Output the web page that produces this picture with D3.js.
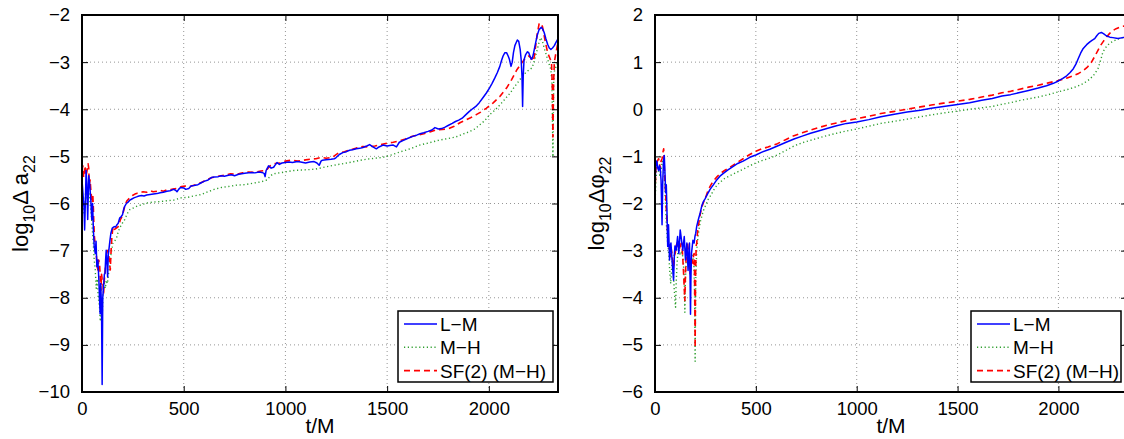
<!DOCTYPE html>
<html><head><meta charset="utf-8">
<script src="https://cdn.jsdelivr.net/npm/d3@7"></script>
<style>body{margin:0;background:#fff}svg{display:block}text{font-family:"Liberation Sans",Arial,Helvetica,sans-serif;fill:#000}</style>
</head><body><svg id="c" width="1124" height="439"></svg>
<script>
// ---------- data ----------
const xTicks = [0, 500, 1000, 1500, 2000];
const yTicksAmp = [-10, -9, -8, -7, -6, -5, -4, -3, -2];
const yTicksPhase = [-6, -5, -4, -3, -2, -1, 0, 1, 2];
const legendLabels = ["L\u2212M", "M\u2212H", "SF(2) (M\u2212H)"];

const ampLM = [[0,-5.5],[5,-5.8],[10,-6.1],[13,-6.56],[17,-5.9],[20,-5.3],[24,-5.6],[28,-6.34],[33,-5.41],[38,-5.6],[43,-5.9],[48,-6.34],[52,-6.0],[56,-6.56],[60,-6.9],[65,-7.06],[69,-6.8],[73,-7.34],[78,-7.2],[83,-7.63],[86,-8.0],[89,-8.34],[92,-7.7],[96,-8.2],[99,-9.84],[102,-8.0],[106,-7.77],[110,-7.5],[113,-7.49],[116,-7.2],[119,-6.99],[123,-7.3],[126,-7.56],[129,-7.1],[132,-6.99],[137,-6.8],[142,-6.63],[149,-6.52],[155,-6.5],[159,-6.49],[165,-6.5],[172,-6.45],[178,-6.42],[185,-6.31],[192,-6.28],[199,-6.24],[205,-6.12],[210,-6.06],[218,-6.0],[227,-5.97],[235,-5.93],[243,-5.91],[255,-5.88],[268,-5.86],[280,-5.84],[293,-5.83],[305,-5.84],[318,-5.82],[335,-5.81],[351,-5.8],[368,-5.79],[384,-5.77],[400,-5.76],[417,-5.74],[433,-5.73],[450,-5.7],[460,-5.72],[467,-5.75],[475,-5.7],[484,-5.66],[500,-5.67],[510,-5.7],[525,-5.68],[536,-5.63],[550,-5.62],[570,-5.6],[586,-5.56],[600,-5.53],[620,-5.5],[636,-5.45],[650,-5.44],[670,-5.43],[685,-5.41],[700,-5.42],[720,-5.4],[735,-5.39],[750,-5.41],[770,-5.38],[785,-5.37],[800,-5.36],[820,-5.35],[834,-5.34],[850,-5.35],[870,-5.33],[884,-5.34],[895,-5.36],[900,-5.43],[905,-5.3],[917,-5.2],[930,-5.25],[942,-5.23],[950,-5.18],[959,-5.13],[970,-5.17],[983,-5.14],[1000,-5.13],[1017,-5.12],[1035,-5.13],[1058,-5.11],[1075,-5.12],[1099,-5.14],[1120,-5.12],[1141,-5.11],[1155,-5.14],[1166,-5.19],[1175,-5.1],[1182,-5.08],[1200,-5.07],[1224,-5.06],[1240,-5.05],[1248,-5.03],[1265,-4.96],[1282,-4.92],[1300,-4.9],[1315,-4.87],[1330,-4.86],[1348,-4.84],[1365,-4.83],[1381,-4.81],[1400,-4.78],[1414,-4.75],[1430,-4.8],[1447,-4.84],[1460,-4.8],[1480,-4.76],[1500,-4.78],[1513,-4.77],[1530,-4.76],[1546,-4.8],[1560,-4.7],[1580,-4.66],[1600,-4.62],[1629,-4.57],[1645,-4.55],[1662,-4.52],[1680,-4.5],[1701,-4.47],[1720,-4.44],[1735,-4.39],[1752,-4.42],[1768,-4.41],[1785,-4.38],[1802,-4.34],[1820,-4.3],[1836,-4.26],[1852,-4.23],[1869,-4.19],[1886,-4.12],[1903,-4.05],[1920,-3.99],[1936,-3.94],[1953,-3.86],[1970,-3.76],[1987,-3.66],[2003,-3.55],[2016,-3.45],[2029,-3.34],[2042,-3.22],[2054,-3.09],[2062,-2.97],[2070,-2.87],[2079,-2.8],[2087,-2.8],[2095,-2.87],[2101,-2.94],[2109,-3.09],[2115,-3.0],[2121,-2.8],[2128,-2.65],[2134,-2.59],[2140,-2.53],[2147,-2.56],[2154,-2.73],[2159,-2.95],[2163,-3.3],[2166,-3.94],[2169,-3.3],[2173,-2.95],[2181,-2.84],[2190,-2.78],[2196,-2.8],[2203,-2.88],[2208,-2.94],[2213,-2.92],[2218,-2.85],[2224,-2.72],[2230,-2.59],[2238,-2.43],[2247,-2.31],[2258,-2.26],[2265,-2.3],[2272,-2.37],[2280,-2.5],[2289,-2.62],[2297,-2.7],[2305,-2.73],[2313,-2.7],[2322,-2.65],[2330,-2.58],[2339,-2.51]];

const ampMH = [[0,-5.7],[5,-5.9],[10,-6.2],[15,-6.0],[20,-5.6],[25,-5.9],[30,-5.7],[35,-5.8],[40,-6.0],[45,-6.2],[50,-6.5],[55,-6.8],[60,-7.2],[65,-7.4],[70,-7.8],[75,-7.6],[80,-8.0],[86,-8.2],[90,-8.5],[95,-8.0],[100,-8.3],[103,-7.95],[110,-7.7],[115,-7.8],[119,-7.63],[125,-7.7],[130,-7.5],[136,-7.34],[142,-7.1],[152,-6.84],[160,-6.8],[169,-6.74],[177,-6.62],[185,-6.52],[198,-6.42],[210,-6.34],[222,-6.22],[235,-6.13],[250,-6.1],[268,-6.06],[290,-6.03],[318,-5.99],[350,-5.97],[384,-5.96],[420,-5.94],[450,-5.93],[487,-5.88],[520,-5.87],[550,-5.84],[586,-5.81],[620,-5.75],[650,-5.7],[685,-5.66],[720,-5.64],[760,-5.61],[800,-5.6],[840,-5.57],[880,-5.54],[910,-5.5],[925,-5.42],[940,-5.37],[970,-5.35],[1000,-5.33],[1040,-5.3],[1080,-5.29],[1120,-5.28],[1149,-5.27],[1200,-5.22],[1250,-5.18],[1315,-5.13],[1360,-5.09],[1400,-5.06],[1440,-5.04],[1480,-5.02],[1520,-4.97],[1560,-4.91],[1613,-4.84],[1660,-4.76],[1700,-4.72],[1752,-4.66],[1800,-4.62],[1836,-4.59],[1870,-4.53],[1903,-4.48],[1930,-4.42],[1953,-4.34],[1980,-4.24],[2003,-4.12],[2030,-4.02],[2054,-3.91],[2080,-3.78],[2104,-3.66],[2125,-3.53],[2146,-3.41],[2165,-3.3],[2180,-3.23],[2196,-3.17],[2213,-3.12],[2225,-2.95],[2238,-2.73],[2247,-2.58],[2255,-2.48],[2263,-2.55],[2272,-2.7],[2289,-2.94],[2305,-3.16],[2310,-3.4],[2315,-5.01],[2319,-3.4],[2322,-3.2],[2330,-3.1],[2339,-3.0]];

const ampSF = [[0,-5.3],[4,-5.2],[8,-5.45],[12,-5.3],[15,-5.2],[20,-5.41],[25,-5.3],[30,-5.16],[33,-5.25],[36,-5.6],[40,-5.5],[44,-5.75],[50,-5.99],[53,-5.8],[56,-6.1],[58,-6.4],[61,-6.7],[65,-6.9],[70,-7.06],[74,-7.3],[78,-7.41],[82,-7.2],[86,-7.25],[90,-7.6],[93,-7.84],[96,-7.5],[99,-7.6],[103,-7.7],[106,-7.91],[110,-7.6],[113,-7.5],[116,-7.3],[119,-7.2],[124,-7.0],[129,-6.99],[134,-7.2],[139,-7.41],[143,-7.0],[146,-6.77],[152,-6.49],[160,-6.55],[169,-6.52],[176,-6.5],[182,-6.45],[188,-6.35],[194,-6.3],[202,-6.2],[210,-6.06],[220,-5.95],[235,-5.88],[248,-5.83],[260,-5.8],[272,-5.78],[285,-5.77],[300,-5.75],[318,-5.76],[335,-5.73],[350,-5.75],[368,-5.74],[385,-5.72],[400,-5.74],[417,-5.71],[440,-5.7],[467,-5.68],[490,-5.64],[508,-5.63],[530,-5.64],[560,-5.6],[590,-5.55],[610,-5.5],[640,-5.45],[670,-5.42],[700,-5.4],[730,-5.37],[760,-5.38],[790,-5.35],[820,-5.33],[850,-5.34],[880,-5.31],[905,-5.3],[925,-5.2],[950,-5.15],[975,-5.14],[1000,-5.1],[1030,-5.08],[1060,-5.1],[1090,-5.08],[1120,-5.06],[1150,-5.05],[1175,-5.02],[1200,-5.04],[1230,-5.02],[1260,-4.93],[1290,-4.9],[1320,-4.86],[1350,-4.82],[1380,-4.79],[1410,-4.8],[1440,-4.78],[1470,-4.75],[1500,-4.72],[1530,-4.7],[1560,-4.67],[1590,-4.63],[1620,-4.58],[1650,-4.55],[1680,-4.52],[1710,-4.48],[1740,-4.44],[1770,-4.43],[1802,-4.41],[1830,-4.36],[1860,-4.28],[1886,-4.23],[1910,-4.18],[1936,-4.12],[1960,-4.06],[1987,-3.98],[2020,-3.87],[2054,-3.73],[2087,-3.55],[2112,-3.37],[2138,-3.16],[2163,-3.01],[2180,-2.91],[2196,-2.87],[2208,-2.91],[2218,-2.98],[2225,-2.85],[2230,-2.66],[2238,-2.4],[2247,-2.19],[2255,-2.17],[2264,-2.25],[2275,-2.51],[2289,-2.8],[2302,-2.94],[2308,-3.0],[2312,-3.5],[2315,-4.59],[2318,-3.5],[2322,-3.0],[2330,-2.8],[2339,-2.6]];

const phLM = [[0,-1.6],[3,-1.27],[7,-1.1],[10,-1.12],[14,-1.25],[18,-1.3],[22,-1.2],[26,-1.25],[30,-1.5],[35,-2.45],[38,-1.6],[42,-1.1],[46,-0.98],[49,-1.3],[53,-1.77],[56,-1.6],[59,-2.1],[63,-2.91],[67,-2.45],[72,-3.2],[76,-2.9],[79,-2.84],[83,-3.1],[86,-3.3],[92,-3.63],[96,-3.1],[99,-2.9],[105,-2.99],[112,-2.7],[118,-3.06],[125,-2.56],[132,-2.8],[138,-2.99],[145,-2.7],[151,-3.2],[158,-2.84],[164,-3.42],[168,-3.0],[171,-2.84],[174,-3.6],[176,-4.35],[178,-3.6],[181,-3.06],[188,-2.78],[194,-2.84],[198,-2.7],[202,-2.63],[207,-2.48],[215,-2.34],[224,-2.2],[232,-2.05],[240,-1.96],[248,-1.9],[260,-1.8],[273,-1.7],[290,-1.6],[306,-1.5],[322,-1.42],[339,-1.36],[360,-1.29],[388,-1.21],[410,-1.15],[437,-1.1],[470,-1.02],[500,-0.97],[530,-0.91],[569,-0.85],[607,-0.78],[650,-0.7],[689,-0.63],[730,-0.57],[771,-0.51],[810,-0.46],[852,-0.41],[900,-0.35],[950,-0.3],[1000,-0.27],[1060,-0.22],[1120,-0.16],[1180,-0.11],[1250,-0.06],[1316,-0.02],[1370,0.02],[1430,0.06],[1500,0.1],[1560,0.14],[1620,0.19],[1672,0.23],[1720,0.28],[1763,0.31],[1803,0.35],[1852,0.4],[1900,0.45],[1941,0.5],[1975,0.55],[2000,0.6],[2020,0.65],[2041,0.71],[2058,0.78],[2074,0.86],[2086,0.95],[2098,1.07],[2110,1.19],[2123,1.29],[2140,1.37],[2156,1.43],[2170,1.47],[2180,1.5],[2190,1.56],[2200,1.61],[2213,1.63],[2225,1.6],[2237,1.56],[2255,1.53],[2270,1.52],[2295,1.5],[2319,1.52],[2340,1.53]];

const phMH = [[0,-1.98],[4,-1.6],[8,-1.3],[12,-1.2],[18,-1.3],[24,-1.4],[30,-1.3],[36,-1.1],[42,-1.2],[46,-1.4],[50,-1.8],[56,-2.4],[62,-2.8],[66,-2.95],[70,-3.2],[74,-3.5],[78,-3.7],[82,-3.4],[86,-3.2],[90,-3.4],[95,-3.8],[99,-4.06],[102,-4.2],[105,-3.7],[109,-3.3],[114,-3.0],[118,-2.95],[125,-3.1],[133,-3.0],[140,-3.2],[145,-3.6],[148,-4.31],[151,-3.6],[156,-3.1],[161,-3.0],[168,-3.2],[174,-3.4],[181,-3.2],[188,-3.1],[193,-3.3],[196,-3.8],[199,-5.35],[202,-3.6],[207,-3.0],[212,-2.75],[218,-2.55],[224,-2.4],[232,-2.27],[240,-2.15],[252,-2.03],[265,-1.9],[278,-1.82],[290,-1.72],[306,-1.62],[322,-1.55],[345,-1.47],[372,-1.41],[400,-1.35],[437,-1.27],[470,-1.2],[500,-1.14],[530,-1.09],[560,-1.05],[607,-0.97],[650,-0.87],[689,-0.78],[730,-0.71],[771,-0.66],[810,-0.61],[852,-0.56],[900,-0.51],[950,-0.46],[1000,-0.42],[1060,-0.36],[1120,-0.3],[1180,-0.26],[1250,-0.21],[1316,-0.16],[1370,-0.12],[1430,-0.08],[1500,-0.04],[1560,0.0],[1620,0.03],[1672,0.06],[1714,0.1],[1763,0.14],[1803,0.18],[1850,0.22],[1900,0.26],[1950,0.31],[2000,0.37],[2045,0.42],[2090,0.48],[2125,0.55],[2156,0.64],[2178,0.74],[2196,0.86],[2208,1.02],[2221,1.22],[2238,1.33],[2254,1.4],[2275,1.45],[2295,1.49],[2319,1.52],[2340,1.54]];

const phSF = [[0,-1.77],[4,-1.3],[7,-1.19],[12,-1.1],[18,-1.05],[22,-1.15],[26,-1.25],[30,-1.1],[35,-1.05],[40,-0.9],[43,-0.84],[46,-1.2],[49,-1.5],[53,-1.8],[56,-2.13],[60,-2.4],[63,-2.6],[66,-2.84],[69,-2.84],[73,-3.0],[76,-3.13],[80,-2.95],[84,-3.06],[88,-3.2],[92,-3.34],[96,-3.1],[100,-3.06],[105,-2.9],[109,-2.84],[113,-2.95],[117,-2.77],[121,-2.9],[125,-2.98],[129,-2.85],[133,-2.84],[137,-3.1],[141,-3.42],[145,-3.8],[148,-4.06],[151,-3.5],[155,-3.06],[158,-2.9],[161,-2.84],[165,-3.0],[168,-3.06],[171,-3.3],[174,-3.49],[178,-3.2],[181,-3.13],[185,-3.2],[188,-3.27],[191,-3.1],[194,-3.06],[196,-3.5],[199,-5.06],[201,-3.6],[204,-2.9],[207,-2.84],[211,-2.6],[215,-2.48],[224,-2.23],[232,-2.08],[240,-1.98],[252,-1.86],[265,-1.7],[278,-1.6],[290,-1.52],[306,-1.44],[322,-1.37],[345,-1.3],[372,-1.23],[400,-1.15],[437,-1.05],[470,-0.96],[500,-0.89],[530,-0.84],[560,-0.8],[607,-0.73],[650,-0.64],[689,-0.56],[730,-0.5],[771,-0.44],[810,-0.39],[852,-0.34],[900,-0.29],[950,-0.24],[1000,-0.2],[1060,-0.15],[1120,-0.09],[1180,-0.05],[1250,0.0],[1316,0.05],[1370,0.09],[1430,0.13],[1500,0.17],[1560,0.21],[1620,0.26],[1672,0.3],[1720,0.35],[1763,0.38],[1803,0.42],[1852,0.47],[1900,0.51],[1950,0.56],[2000,0.61],[2040,0.66],[2074,0.71],[2100,0.76],[2123,0.82],[2145,0.9],[2164,1.0],[2180,1.12],[2196,1.25],[2210,1.36],[2221,1.43],[2238,1.53],[2254,1.61],[2270,1.67],[2286,1.71],[2303,1.74],[2319,1.76],[2340,1.77]];

// ---------- drawing ----------
const svg = d3.select("#c");
const fmt = v => (v < 0 ? "\u2212" + Math.abs(v) : String(v));
const styles = [
  {color:"#0000ff", dash:null, width:1.5},
  {color:"#2e9e2e", dash:"1.2,2.6", width:1.4},
  {color:"#ff0000", dash:"6,4", width:1.6}
];

function panel(cfg, idx) {
  const x = d3.scaleLinear().domain([0, 2340]).range([cfg.x0, cfg.x1]);
  const y = d3.scaleLinear().domain(cfg.yDomain).range([cfg.y1, cfg.y0]);
  const g = svg.append("g");
  const cid = "clip" + idx;
  g.append("clipPath").attr("id", cid).append("rect")
    .attr("x", cfg.x0).attr("y", cfg.y0).attr("width", cfg.x1 - cfg.x0).attr("height", cfg.y1 - cfg.y0);

  // grid
  const grid = g.append("g").attr("stroke", "#8a8a8a").attr("stroke-width", 0.9).attr("stroke-dasharray", "1,3");
  xTicks.filter(t => t > 0).forEach(t => grid.append("line").attr("x1", x(t)).attr("x2", x(t)).attr("y1", cfg.y0).attr("y2", cfg.y1));
  cfg.yTicks.slice(1, -1).forEach(t => grid.append("line").attr("y1", y(t)).attr("y2", y(t)).attr("x1", cfg.x0).attr("x2", cfg.x1));

  // lines
  const line = d3.line().x(d => x(d[0])).y(d => y(d[1]));
  const lg = g.append("g").attr("clip-path", `url(#${cid})`).attr("fill", "none");
  [1, 2, 0].forEach(si => {
    lg.append("path").datum(cfg.series[si]).attr("d", line)
      .attr("stroke", styles[si].color).attr("stroke-width", styles[si].width)
      .attr("stroke-dasharray", styles[si].dash).attr("stroke-linejoin", "round");
  });

  // axes (MATLAB style inward ticks)
  const tl = 6;
  const ax = g.append("g");
  ax.append("g").attr("transform", `translate(0,${cfg.y1})`)
    .call(d3.axisBottom(x).tickValues(xTicks).tickSize(-tl).tickPadding(tl + 4).tickFormat(fmt));
  ax.append("g").attr("transform", `translate(0,${cfg.y0})`)
    .call(d3.axisTop(x).tickValues(xTicks).tickSize(-tl).tickFormat(""));
  ax.append("g").attr("transform", `translate(${cfg.x0},0)`)
    .call(d3.axisLeft(y).tickValues(cfg.yTicks).tickSize(-tl).tickPadding(tl + 6).tickFormat(fmt));
  ax.append("g").attr("transform", `translate(${cfg.x1},0)`)
    .call(d3.axisRight(y).tickValues(cfg.yTicks).tickSize(-tl).tickFormat(""));
  ax.selectAll(".domain").remove();
  ax.selectAll(".tick line").attr("stroke", "#000").attr("stroke-width", 1);
  ax.selectAll(".tick text").attr("font-size", 18.5).attr("font-family", '"Liberation Sans",Arial,sans-serif').attr("fill", "#000");
  g.append("rect").attr("x", cfg.x0).attr("y", cfg.y0).attr("width", cfg.x1 - cfg.x0).attr("height", cfg.y1 - cfg.y0)
    .attr("fill", "none").attr("stroke", "#000").attr("stroke-width", 2);

  // x label
  g.append("text").attr("x", (cfg.x0 + cfg.x1) / 2).attr("y", 433).attr("text-anchor", "middle")
    .attr("font-size", 21).text("t/M");
  // y label
  const yl = g.append("text").attr("transform", `translate(${cfg.ylx},${(cfg.y0 + cfg.y1) / 2}) rotate(-90)`)
    .attr("text-anchor", "middle").attr("font-size", 22);
  yl.append("tspan").text("log");
  yl.append("tspan").attr("font-size", 16).attr("dy", 7).text("10");
  yl.append("tspan").attr("dy", -7).text(cfg.ylMid);
  yl.append("tspan").attr("font-size", 16).attr("dy", 7).text("22");

  // legend
  const L = cfg.legend;
  const lgd = g.append("g");
  lgd.append("rect").attr("x", L.x).attr("y", L.y).attr("width", L.w).attr("height", L.h)
    .attr("fill", "#fff").attr("stroke", "#000").attr("stroke-width", 1.5);
  legendLabels.forEach((lab, i) => {
    const cy = L.y + 13 + i * 23.3;
    lgd.append("line").attr("x1", L.x + 6).attr("x2", L.x + 39).attr("y1", cy).attr("y2", cy)
      .attr("stroke", styles[i].color).attr("stroke-width", styles[i].width).attr("stroke-dasharray", styles[i].dash);
    lgd.append("text").attr("x", L.x + 42).attr("y", cy + 7).attr("font-size", 19).text(lab);
  });
}

panel({x0:82, x1:558, y0:15, y1:392, yDomain:[-10,-2], yTicks:yTicksAmp, ylx:28, ylMid:"\u0394 a",
  series:[ampLM, ampMH, ampSF], legend:{x:398, y:311, w:155, h:71}}, 0);
panel({x0:655, x1:1127, y0:15, y1:392, yDomain:[-6,2], yTicks:yTicksPhase, ylx:604, ylMid:"\u0394\u03c6",
  series:[phLM, phMH, phSF], legend:{x:971, y:311, w:150, h:71}}, 1);
</script></body></html>
